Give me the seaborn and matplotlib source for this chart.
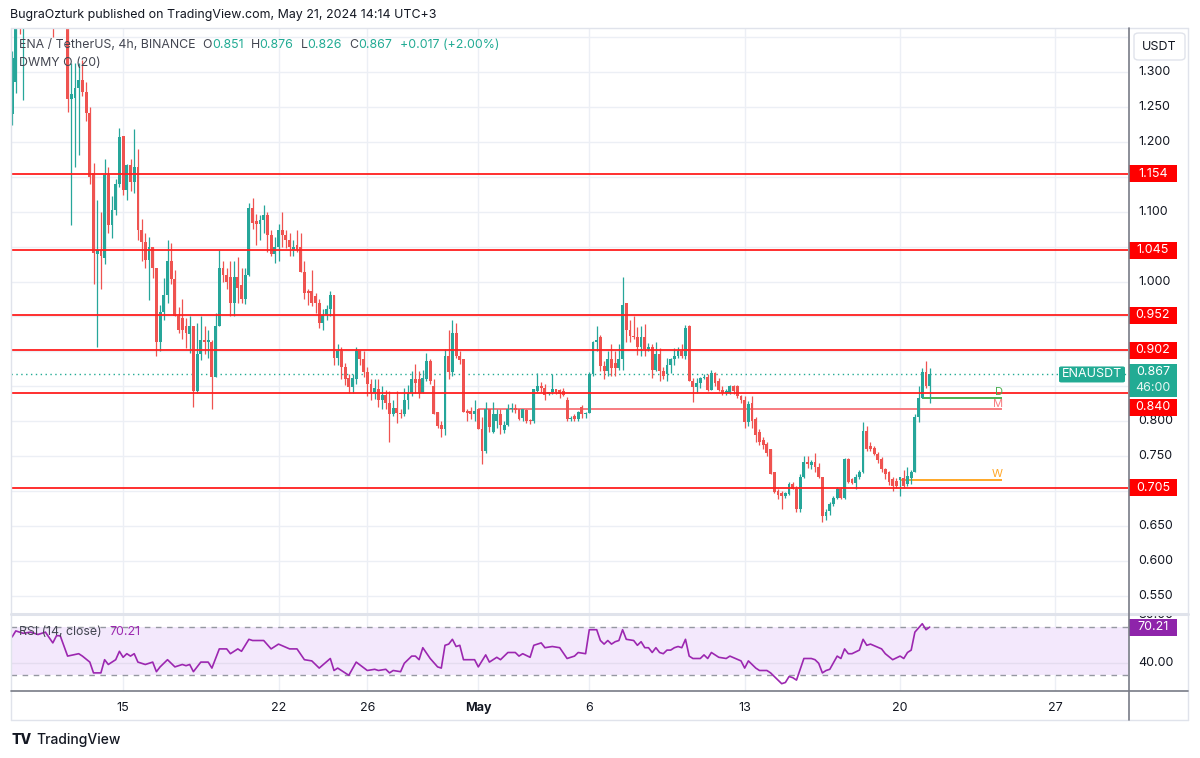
import numpy as np
import pandas as pd
import matplotlib
matplotlib.use("Agg")
import matplotlib.pyplot as plt
import matplotlib.transforms as mtransforms
from matplotlib.patches import Rectangle, FancyBboxPatch
from matplotlib.lines import Line2D
import seaborn as sns

# ENA/USDT 4h candles (first bar: Apr 10 03:00 UTC+3)
opens = [
    1.240, 1.285, 1.400, 1.370, 1.420, 1.460, 1.490, 1.470, 1.440, 1.450,
    1.410, 1.400, 1.380, 1.410, 1.395, 1.390, 1.262, 1.263, 1.277, 1.289,
    1.272, 1.241, 1.156, 1.039, 1.045, 1.034, 1.153, 1.081, 1.103, 1.139,
    1.209, 1.131, 1.167, 1.143, 1.164, 1.074, 1.057, 1.031, 1.050, 1.020,
    0.914, 0.957, 0.981, 1.029, 1.003, 0.950, 0.948, 0.936, 0.925, 0.936,
    0.843, 0.896, 0.917, 0.913, 0.914, 0.863, 0.936, 1.020, 1.010, 1.006,
    0.970, 1.006, 0.995, 0.975, 1.010, 1.106, 1.086, 1.082, 1.088, 1.095,
    1.067, 1.039, 1.050, 1.074, 1.067, 1.060, 1.045, 1.052, 1.050, 1.013,
    0.986, 0.986, 0.980, 0.970, 0.940, 0.952, 0.960, 0.981, 0.891, 0.900,
    0.877, 0.862, 0.849, 0.860, 0.900, 0.889, 0.871, 0.853, 0.841, 0.846,
    0.831, 0.838, 0.826, 0.810, 0.819, 0.812, 0.810, 0.831, 0.841, 0.860,
    0.860, 0.841, 0.860, 0.886, 0.850, 0.813, 0.795, 0.789, 0.893, 0.870,
    0.927, 0.893, 0.889, 0.815, 0.815, 0.810, 0.817, 0.789, 0.757, 0.817,
    0.785, 0.800, 0.810, 0.787, 0.795, 0.817, 0.819, 0.817, 0.804, 0.816,
    0.802, 0.801, 0.844, 0.851, 0.848, 0.839, 0.842, 0.846, 0.845, 0.843,
    0.831, 0.803, 0.808, 0.803, 0.820, 0.810, 0.812, 0.867, 0.913, 0.920,
    0.879, 0.872, 0.889, 0.884, 0.876, 0.889, 0.970, 0.931, 0.922, 0.920,
    0.906, 0.920, 0.903, 0.906, 0.874, 0.896, 0.872, 0.867, 0.881, 0.889,
    0.893, 0.900, 0.893, 0.936, 0.857, 0.849, 0.855, 0.862, 0.864, 0.845,
    0.869, 0.857, 0.845, 0.841, 0.841, 0.850, 0.850, 0.836, 0.831, 0.799,
    0.826, 0.803, 0.784, 0.773, 0.767, 0.760, 0.727, 0.700, 0.697, 0.693,
    0.696, 0.710, 0.703, 0.674, 0.720, 0.741, 0.737, 0.741, 0.734, 0.720,
    0.664, 0.671, 0.681, 0.690, 0.703, 0.690, 0.746, 0.717, 0.712, 0.720,
    0.727, 0.786, 0.764, 0.762, 0.753, 0.746, 0.731, 0.727, 0.717, 0.714,
    0.716, 0.719, 0.710, 0.719, 0.727, 0.806, 0.834, 0.870, 0.851,
]
highs = [
    1.330, 1.420, 1.420, 1.440, 1.480, 1.510, 1.520, 1.500, 1.470, 1.460,
    1.430, 1.410, 1.420, 1.430, 1.410, 1.400, 1.313, 1.313, 1.313, 1.317,
    1.286, 1.250, 1.170, 1.117, 1.099, 1.176, 1.164, 1.123, 1.147, 1.220,
    1.209, 1.169, 1.175, 1.219, 1.190, 1.090, 1.070, 1.064, 1.050, 1.020,
    0.967, 1.005, 1.059, 1.055, 1.017, 0.964, 0.975, 0.948, 0.950, 0.936,
    0.940, 0.950, 0.936, 0.930, 0.916, 0.955, 1.045, 1.030, 1.020, 1.030,
    1.030, 1.035, 1.020, 1.020, 1.113, 1.120, 1.097, 1.095, 1.110, 1.100,
    1.074, 1.064, 1.083, 1.100, 1.074, 1.070, 1.060, 1.074, 1.070, 1.030,
    0.990, 1.017, 0.983, 0.975, 0.960, 0.967, 0.986, 0.981, 0.910, 0.907,
    0.883, 0.868, 0.868, 0.907, 0.902, 0.900, 0.878, 0.860, 0.860, 0.860,
    0.850, 0.845, 0.843, 0.831, 0.843, 0.817, 0.848, 0.852, 0.872, 0.882,
    0.872, 0.874, 0.898, 0.889, 0.860, 0.813, 0.800, 0.903, 0.930, 0.945,
    0.940, 0.900, 0.889, 0.817, 0.820, 0.831, 0.817, 0.806, 0.827, 0.817,
    0.827, 0.817, 0.817, 0.800, 0.825, 0.826, 0.824, 0.817, 0.817, 0.818,
    0.803, 0.846, 0.869, 0.856, 0.853, 0.842, 0.868, 0.846, 0.846, 0.848,
    0.835, 0.808, 0.810, 0.815, 0.823, 0.813, 0.870, 0.915, 0.936, 0.923,
    0.886, 0.900, 0.910, 0.900, 0.910, 1.006, 0.970, 0.945, 0.950, 0.935,
    0.937, 0.939, 0.912, 0.910, 0.913, 0.905, 0.877, 0.890, 0.891, 0.905,
    0.907, 0.910, 0.938, 0.938, 0.862, 0.862, 0.864, 0.867, 0.867, 0.874,
    0.871, 0.862, 0.850, 0.846, 0.852, 0.852, 0.852, 0.838, 0.836, 0.829,
    0.836, 0.806, 0.789, 0.777, 0.770, 0.761, 0.727, 0.703, 0.700, 0.699,
    0.713, 0.713, 0.707, 0.724, 0.750, 0.750, 0.744, 0.755, 0.740, 0.720,
    0.674, 0.684, 0.693, 0.706, 0.706, 0.748, 0.748, 0.719, 0.724, 0.730,
    0.799, 0.793, 0.770, 0.764, 0.756, 0.749, 0.733, 0.729, 0.720, 0.719,
    0.720, 0.730, 0.734, 0.730, 0.810, 0.850, 0.876, 0.886, 0.876,
]
lows = [
    1.224, 1.270, 1.355, 1.260, 1.400, 1.430, 1.450, 1.420, 1.400, 1.390,
    1.380, 1.350, 1.370, 1.380, 1.370, 1.243, 1.081, 1.164, 1.181, 1.265,
    1.230, 1.140, 0.996, 0.906, 0.989, 1.025, 1.070, 1.063, 1.095, 1.135,
    1.124, 1.117, 1.130, 1.127, 1.060, 1.030, 1.020, 0.974, 1.005, 0.893,
    0.900, 0.945, 0.970, 0.996, 0.950, 0.927, 0.918, 0.905, 0.898, 0.821,
    0.840, 0.887, 0.896, 0.890, 0.817, 0.863, 0.936, 1.000, 0.990, 0.950,
    0.950, 0.970, 0.970, 0.968, 1.008, 1.075, 1.052, 1.060, 1.070, 1.043,
    1.036, 1.027, 1.029, 1.050, 1.048, 1.036, 1.036, 1.043, 1.013, 0.975,
    0.966, 0.965, 0.955, 0.934, 0.930, 0.945, 0.950, 0.880, 0.880, 0.860,
    0.852, 0.840, 0.840, 0.853, 0.880, 0.864, 0.836, 0.830, 0.832, 0.820,
    0.818, 0.818, 0.771, 0.807, 0.797, 0.805, 0.807, 0.817, 0.836, 0.841,
    0.833, 0.841, 0.858, 0.853, 0.810, 0.791, 0.777, 0.781, 0.860, 0.865,
    0.890, 0.882, 0.813, 0.800, 0.803, 0.800, 0.789, 0.739, 0.755, 0.784,
    0.783, 0.790, 0.782, 0.783, 0.793, 0.813, 0.812, 0.802, 0.800, 0.798,
    0.796, 0.797, 0.842, 0.842, 0.831, 0.837, 0.839, 0.839, 0.834, 0.836,
    0.800, 0.800, 0.800, 0.800, 0.805, 0.805, 0.812, 0.865, 0.900, 0.872,
    0.860, 0.865, 0.865, 0.865, 0.873, 0.874, 0.913, 0.913, 0.918, 0.895,
    0.894, 0.894, 0.900, 0.862, 0.872, 0.858, 0.860, 0.858, 0.869, 0.880,
    0.890, 0.890, 0.889, 0.857, 0.827, 0.840, 0.848, 0.860, 0.843, 0.845,
    0.850, 0.843, 0.838, 0.838, 0.839, 0.839, 0.834, 0.826, 0.790, 0.793,
    0.790, 0.770, 0.766, 0.760, 0.750, 0.724, 0.697, 0.689, 0.674, 0.690,
    0.694, 0.703, 0.670, 0.670, 0.719, 0.733, 0.731, 0.727, 0.719, 0.656,
    0.659, 0.666, 0.679, 0.688, 0.688, 0.688, 0.711, 0.710, 0.703, 0.718,
    0.726, 0.757, 0.757, 0.751, 0.740, 0.728, 0.717, 0.709, 0.700, 0.704,
    0.693, 0.704, 0.707, 0.710, 0.727, 0.799, 0.833, 0.847, 0.826,
]
closes = [
    1.320, 1.400, 1.370, 1.420, 1.460, 1.490, 1.470, 1.440, 1.450, 1.410,
    1.400, 1.380, 1.410, 1.395, 1.390, 1.262, 1.268, 1.277, 1.289, 1.272,
    1.241, 1.150, 1.041, 1.045, 1.037, 1.153, 1.081, 1.103, 1.139, 1.207,
    1.131, 1.167, 1.143, 1.164, 1.074, 1.057, 1.031, 1.050, 1.020, 0.914,
    0.957, 0.981, 1.029, 1.003, 0.950, 0.930, 0.930, 0.927, 0.936, 0.843,
    0.896, 0.917, 0.913, 0.917, 0.863, 0.936, 1.020, 1.010, 1.000, 0.970,
    1.006, 0.991, 0.975, 1.010, 1.106, 1.084, 1.082, 1.088, 1.095, 1.067,
    1.039, 1.050, 1.074, 1.067, 1.060, 1.050, 1.050, 1.045, 1.013, 0.984,
    0.984, 0.970, 0.970, 0.941, 0.952, 0.960, 0.981, 0.891, 0.900, 0.877,
    0.861, 0.849, 0.862, 0.900, 0.889, 0.871, 0.853, 0.841, 0.847, 0.831,
    0.838, 0.826, 0.810, 0.819, 0.812, 0.810, 0.831, 0.841, 0.860, 0.855,
    0.841, 0.862, 0.886, 0.857, 0.810, 0.793, 0.789, 0.893, 0.870, 0.927,
    0.893, 0.887, 0.813, 0.812, 0.810, 0.815, 0.789, 0.757, 0.817, 0.792,
    0.810, 0.810, 0.795, 0.795, 0.817, 0.819, 0.816, 0.803, 0.817, 0.801,
    0.800, 0.846, 0.851, 0.848, 0.838, 0.842, 0.846, 0.842, 0.839, 0.838,
    0.803, 0.805, 0.803, 0.813, 0.810, 0.812, 0.867, 0.913, 0.917, 0.879,
    0.872, 0.889, 0.876, 0.876, 0.889, 0.967, 0.931, 0.922, 0.920, 0.906,
    0.920, 0.903, 0.906, 0.874, 0.896, 0.872, 0.865, 0.881, 0.889, 0.893,
    0.900, 0.893, 0.934, 0.857, 0.849, 0.855, 0.862, 0.864, 0.845, 0.869,
    0.855, 0.845, 0.841, 0.843, 0.850, 0.843, 0.836, 0.831, 0.799, 0.824,
    0.801, 0.781, 0.770, 0.766, 0.754, 0.724, 0.699, 0.694, 0.693, 0.697,
    0.710, 0.703, 0.674, 0.720, 0.741, 0.739, 0.741, 0.734, 0.720, 0.664,
    0.670, 0.681, 0.690, 0.703, 0.690, 0.746, 0.713, 0.712, 0.720, 0.727,
    0.786, 0.760, 0.761, 0.753, 0.744, 0.731, 0.724, 0.713, 0.707, 0.707,
    0.720, 0.707, 0.721, 0.727, 0.806, 0.834, 0.870, 0.851, 0.867,
]

# RSI(14) vertices (bar number, value)
rsi_bars = [
    0, 1, 3, 5, 7, 9, 11, 12, 13, 15, 18, 19, 21, 22, 24, 25, 26, 28, 29, 30,
    31, 32, 33, 34, 36, 38, 39, 40, 42, 43, 44, 46, 47, 48, 49, 51, 53, 54, 56, 58,
    59, 61, 62, 64, 65, 68, 70, 72, 75, 77, 79, 81, 83, 86, 87, 88, 89, 91, 93, 96,
    98, 99, 101, 102, 103, 105, 106, 108, 109, 110, 111, 113, 115, 116, 117, 118, 119, 120, 121, 122,
    125, 126, 128, 129, 131, 132, 134, 136, 137, 138, 140, 141, 143, 144, 146, 148, 150, 152, 153, 155,
    156, 158, 159, 160, 161, 162, 163, 164, 165, 166, 168, 169, 170, 171, 172, 173, 174, 175, 176, 177,
    178, 179, 180, 181, 182, 183, 184, 186, 187, 188, 189, 191, 193, 194, 197, 198, 199, 201, 202, 204,
    205, 207, 208, 209, 210, 211, 212, 214, 215, 216, 217, 218, 219, 220, 221, 223, 224, 225, 226, 227,
    229, 230, 231, 232, 235, 236, 238, 240, 241, 242, 243, 244, 246, 247, 248,
]
rsi_values = [
    62, 67, 65, 66, 64, 66, 57, 63, 63, 46, 48, 46, 41, 32, 32, 43, 39, 43, 50, 45,
    48, 46, 48, 41, 39, 41, 33, 37, 43, 40, 37, 39, 38, 39, 33, 41, 41, 36, 52, 52,
    48, 52, 50, 60, 59, 59, 52, 56, 52, 52, 43, 42, 36, 44, 34, 36, 34, 30, 41, 34,
    35, 34, 35, 32, 34, 33, 40, 46, 46, 43, 53, 44, 37, 36, 55, 56, 60, 54, 55, 43,
    43, 37, 47, 41, 45, 43, 49, 49, 46, 48, 45, 55, 57, 53, 54, 53, 44, 46, 49, 48,
    68, 68, 59, 56, 59, 56, 58, 59, 68, 60, 59, 55, 58, 53, 53, 49, 53, 49, 48, 51,
    51, 53, 54, 53, 60, 46, 44, 44, 47, 44, 49, 45, 44, 46, 42, 36, 42, 36, 34, 34,
    32, 26, 23, 24, 29, 28, 26, 44, 44, 44, 43, 40, 32, 34, 35, 46, 44, 52, 48, 48,
    51, 60, 55, 56, 52, 48, 43, 46, 44, 49, 51, 66, 73, 68, 70.21,
]

levels = [1.154, 1.045, 0.952, 0.902, 0.840, 0.705]
dwmy_names = ["D", "W", "M"]
dwmy_opens = [0.834, 0.716, 0.817]
dwmy_from = ["2024-05-21 03:00", "2024-05-20 03:00", "2024-05-01 03:00"]
dwmy_colors = ["#4caf50", "#ffa726", "#f77c80"]

tick_days = ["2024-04-15", "2024-04-22", "2024-04-26", "2024-05-01",
             "2024-05-06", "2024-05-13", "2024-05-20", "2024-05-27"]
tick_labels = ["15", "22", "26", "May", "6", "13", "20", "27"]
price_labels = [1.300, 1.250, 1.200, 1.100, 1.000, 0.800, 0.750, 0.650, 0.600, 0.550]

UP, DOWN = "#26a69a", "#ef5350"
TEAL = "#22ab94"
PURPLE = "#9c27b0"
GRID = "#eceff5"
TXT = "#131722"
GREY = "#434651"
LINE_RED = "#ff1f1f"

W_PX, H_PX = 1200, 758


def fx(px):
    return px / W_PX


def fy(py):
    return 1 - py / H_PX


sns.set_theme(style="white")
plt.rcParams["font.family"] = ["Inter", "DejaVu Sans"]

fig = plt.figure(figsize=(12, 7.58), dpi=100)
ax = fig.add_axes([fx(11), fy(613), fx(1128) - fx(11), fy(28) - fy(613)])
ax_rsi = fig.add_axes([fx(11), fy(691), fx(1128) - fx(11), fy(614) - fy(691)], sharex=ax)

o, h, l, c = (np.array(a) for a in (opens, highs, lows, closes))
x = np.arange(len(c))
first_bar = pd.Timestamp("2024-04-10 03:00")
bar_times = pd.date_range(first_bar, periods=len(c), freq="4h")
tick_pos = [(pd.Timestamp(d) + pd.Timedelta(hours=3) - first_bar) / pd.Timedelta(hours=4)
            for d in tick_days]

y_lo, y_hi = 0.5255, 1.363
r_lo, r_hi = 16.9, 81.1
px_per_price = (613 - 28) / (y_hi - y_lo)
px_per_rsi = (691 - 614) / (r_hi - r_lo)

# ---- price pane ----
ax.set_xlim(-0.3, 301.6)
ax.set_ylim(y_lo, y_hi)
for g in np.round(np.arange(0.55, 1.36, 0.05), 2):
    ax.axhline(g, color=GRID, lw=1, zorder=0)
for tp in tick_pos:
    ax.axvline(tp, color=GRID, lw=1, zorder=0)
    ax_rsi.axvline(tp, color=GRID, lw=1, zorder=0)

col = np.where(c >= o, UP, DOWN)
ax.vlines(x, l, h, colors=col, lw=0.9, zorder=3)
ax.bar(x, np.maximum(np.abs(c - o), 0.0013), bottom=np.minimum(o, c),
       width=0.76, color=col, lw=0, zorder=4)

for lv in levels:
    ax.axhline(lv, color=LINE_RED, lw=1.3, zorder=5)
ax.axhline(c[-1], color=TEAL, lw=1, ls=(0, (1, 2.5)), zorder=2)

dwmy_end = x[-1] + 19.5
for name, val, start, colr in zip(dwmy_names, dwmy_opens, dwmy_from, dwmy_colors):
    s = bar_times.get_loc(pd.Timestamp(start))
    ax.hlines(val, s, dwmy_end, colors=colr, lw=1.4, zorder=2)
    ax.text(dwmy_end + 0.3, val + 0.5 / px_per_price, name, color=colr, fontsize=8,
            ha="right", va="bottom", zorder=6)

ax.tick_params(left=False, right=False, bottom=False, labelleft=False, labelbottom=False)
for sp in ax.spines.values():
    sp.set_visible(False)

blend = mtransforms.blended_transform_factory(fig.transFigure, ax.transData)
for p in price_labels:
    ax.text(fx(1138), p, f"{p:.3f}", transform=blend, ha="left", va="center",
            fontsize=9, color=TXT, clip_on=False)

box_h = 17 / px_per_price
for lv in levels:
    centre = lv - (14 / px_per_price if lv == 0.840 else 0)
    ax.add_patch(Rectangle((fx(1129), centre - box_h / 2), fx(1177) - fx(1129), box_h,
                           transform=blend, fc="#ff0000", ec="none", clip_on=False, zorder=10))
    ax.text(fx(1153), centre, f"{lv:.3f}", transform=blend, ha="center", va="center",
            fontsize=9, color="white", clip_on=False, zorder=11)

last = c[-1]
ax.add_patch(Rectangle((fx(1129), last - 23 / px_per_price), fx(1177) - fx(1129),
                       33 / px_per_price, transform=blend, fc=TEAL, ec="none",
                       clip_on=False, zorder=10))
ax.text(fx(1153), last + 2 / px_per_price, f"{last:.3f}", transform=blend, ha="center",
        va="center", fontsize=9, color="white", clip_on=False, zorder=11)
ax.text(fx(1153), last - 14 / px_per_price, "46:00", transform=blend, ha="center",
        va="center", fontsize=9, color="#e8f6f3", clip_on=False, zorder=11)
ax.add_patch(FancyBboxPatch((fx(1059), last - 8 / px_per_price), fx(1125) - fx(1059),
                            16 / px_per_price, boxstyle="round,pad=0,rounding_size=0.002",
                            transform=blend, fc=TEAL, ec="none", clip_on=False, zorder=10))
ax.text(fx(1092), last, "ENAUSDT", transform=blend, ha="center", va="center",
        fontsize=9, color="white", clip_on=False, zorder=11)

# ---- RSI pane ----
ax_rsi.set_ylim(r_lo, r_hi)
ax_rsi.axhspan(30, 70, color="#f3e8fc", lw=0, zorder=0)
ax_rsi.axhline(40, color="#e4dcef", lw=1, zorder=0)
for lv in (70, 30):
    ax_rsi.axhline(lv, color="#9598a1", lw=1, ls=(0, (4, 4)), zorder=1)
sns.lineplot(x=rsi_bars, y=rsi_values, ax=ax_rsi, color=PURPLE, lw=1.2,
             errorbar=None, zorder=3)
ax_rsi.set_xlabel("")
ax_rsi.set_ylabel("")
for sp in ax_rsi.spines.values():
    sp.set_visible(False)
ax_rsi.set_yticks([])
ax_rsi.set_xticks(tick_pos)
ax_rsi.set_xticklabels(tick_labels)
ax_rsi.tick_params(axis="x", length=0, pad=8, labelsize=9, labelcolor=TXT)
for lab in ax_rsi.get_xticklabels():
    if lab.get_text() == "May":
        lab.set_fontweight("bold")

blend_r = mtransforms.blended_transform_factory(fig.transFigure, ax_rsi.transData)
ax_rsi.text(fx(1138), 40, "40.00", transform=blend_r, ha="left", va="center",
            fontsize=9, color=TXT, clip_on=False)
# the 80.00 label is cut by the top of the pane
cut = ax_rsi.text(fx(1138), 80, "80.00", transform=blend_r, ha="left", va="center",
                  fontsize=9, color=TXT, clip_on=True)
cut.set_clip_box(mtransforms.TransformedBbox(
    mtransforms.Bbox([[fx(1129), fy(691)], [fx(1188), fy(615)]]), fig.transFigure))
rsi_last = rsi_values[-1]
ax_rsi.add_patch(Rectangle((fx(1129), rsi_last - 8.5 / px_per_rsi), fx(1177) - fx(1129),
                           17 / px_per_rsi, transform=blend_r, fc="#8e24aa", ec="none",
                           clip_on=False, zorder=10))
ax_rsi.text(fx(1153), rsi_last, f"{rsi_last:.2f}", transform=blend_r, ha="center",
            va="center", fontsize=9, color="white", clip_on=False, zorder=11)

# ---- frame and separators ----
frame = "#e0e3eb"
for xs, ys, colr, lw in [
    ((11, 1188), (28, 28), frame, 1),
    ((11, 1188), (720, 720), frame, 1),
    ((11, 11), (28, 720), frame, 1),
    ((1188, 1188), (28, 720), frame, 1),
    ((11, 1188), (614, 614), frame, 2.2),
    ((11, 1188), (691, 691), "#787b86", 1.2),
    ((1128.5, 1128.5), (28, 720), "#787b86", 1.2),
]:
    fig.add_artist(Line2D([fx(xs[0]), fx(xs[1])], [fy(ys[0]), fy(ys[1])],
                          color=colr, lw=lw, transform=fig.transFigure))

fig.add_artist(FancyBboxPatch((fx(1134), fy(60)), fx(1185) - fx(1134), fy(33) - fy(60),
                              boxstyle="round,pad=0,rounding_size=0.004",
                              transform=fig.transFigure, fc="white", ec="#e0e3eb", lw=1))
fig.text(fx(1159.5), fy(46.5), "USDT", ha="center", va="center", fontsize=9, color=TXT)

# ---- header texts ----
fig.text(fx(10), fy(15), "BugraOzturk published on TradingView.com, May 21, 2024 14:14 UTC+3",
         ha="left", va="center", fontsize=8.95, color=TXT)


def chain(parts, x_px, y_px, axes):
    prev = axes.annotate(parts[0][0], xy=(x_px, H_PX - y_px), xycoords="figure pixels",
                         ha="left", va="center", fontsize=8.9, color=parts[0][1],
                         annotation_clip=False, zorder=12)
    for s, colr, gap in parts[1:]:
        prev = axes.annotate(s, xy=(1, 0.5), xycoords=prev, xytext=(gap, 0),
                             textcoords="offset pixels", ha="left", va="center",
                             fontsize=8.9, color=colr, annotation_clip=False, zorder=12)


chain([("ENA / TetherUS, 4h, BINANCE", GREY, 0), ("O", GREY, 7), ("0.851", TEAL, 0),
       ("H", GREY, 7), ("0.876", TEAL, 0), ("L", GREY, 7), ("0.826", TEAL, 0),
       ("C", GREY, 7), ("0.867", TEAL, 0), ("+0.017 (+2.00%)", TEAL, 8)], 19, 45, ax)
fig.text(fx(19), fy(63), "DWMY O (20)", ha="left", va="center", fontsize=8.9, color=GREY)
chain([("RSI (14, close)", GREY, 0), (f"{rsi_last:.2f}", PURPLE, 8)], 19, 632, ax_rsi)

fig.text(fx(11), fy(740), "TV", ha="left", va="center", fontsize=10, fontweight="heavy",
         color=TXT)
fig.text(fx(36), fy(740), "TradingView", ha="left", va="center", fontsize=10,
         fontweight="medium", color=TXT)

fig.savefig("out.png", dpi=100, facecolor="white")
